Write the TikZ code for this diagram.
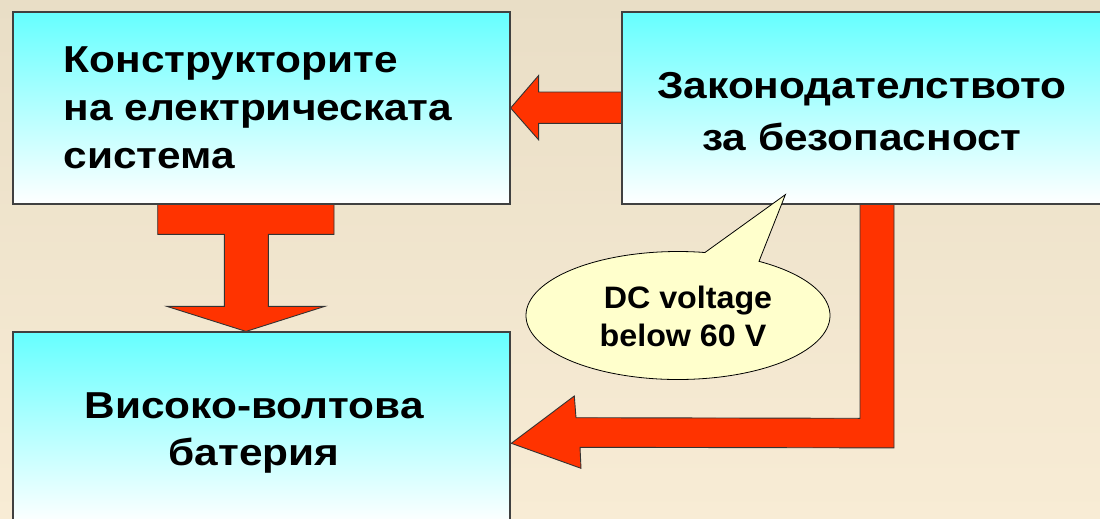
\documentclass[tikz,border=0pt]{standalone}
\usepackage{fontspec}
\setmainfont{Liberation Sans}
\newfontfamily\widefont{Liberation Sans}[FakeStretch=1.13]
\newfontfamily\semiwidefont{Liberation Sans}[FakeStretch=1.04]
\usetikzlibrary{calc}
\pgfdeclarelayer{bglayer}
\pgfdeclarelayer{arrowlayer}
\pgfsetlayers{bglayer,arrowlayer,main}
\definecolor{bgtop}{HTML}{E9DEC6}
\definecolor{bgbot}{HTML}{F8ECD5}
\definecolor{boxtop}{HTML}{66FFFF}
\definecolor{boxline}{HTML}{404040}
\definecolor{arrowred}{HTML}{FF3300}
\definecolor{calloutfill}{HTML}{FFFFCC}
\tikzset{
  box/.style={draw=boxline, line width=1.2pt, top color=boxtop, bottom color=white,
    inner sep=0pt, minimum width=497pt, minimum height=192pt},
  blockarrow/.style={fill=arrowred, draw=black!80, line width=0.9pt, line join=miter},
  calloutshape/.style={fill=calloutfill, draw=black, line width=0.8pt},
  bigtext/.style={font=\widefont\fontsize{37.5}{45}\selectfont\bfseries, inner sep=0pt},
  smalltext/.style={font=\semiwidefont\fontsize{31}{37}\selectfont\bfseries, inner sep=0pt, anchor=base},
}
\begin{document}
\begin{tikzpicture}[x=1pt,y=-1pt]
\useasboundingbox (0,0) rectangle (1100,519);
\clip (0,0) rectangle (1100,519);
\begin{pgfonlayer}{bglayer}
  \fill[top color=bgtop, bottom color=bgbot] (0,0) rectangle (1100,519);
\end{pgfonlayer}

% boxes
\node[box] (b1) at (261.5,108) {};
\node[box, minimum width=480pt] (b2) at (862,108) {};
\node[box] (b3) at (261.5,428) {};

% box texts
\node[bigtext, anchor=base west] (t1a) at (63.5,72.3) {Конструкторите};
\node[bigtext, anchor=base west] (t1b) at (63.5,120.7) {на електрическата};
\node[bigtext, anchor=base west] (t1c) at (63.5,168.3) {система};
\node[bigtext, anchor=base] (t2a) at (862,98.3) {Законодателството};
\node[bigtext, anchor=base] (t2b) at (862,150) {за безопасност};
\node[bigtext, anchor=base] (t3a) at (254,418.3) {Високо-волтова};
\node[bigtext, anchor=base] (t3b) at (254,465) {батерия};

% arrows
\begin{pgfonlayer}{arrowlayer}
  % left arrow: legislation -> designers
  \draw[blockarrow] (b1.east) -- ++(28,-32.5) -- ++(0,16.5)
    -- ($(b2.west)+(20,-16)$) -- ($(b2.west)+(20,15.3)$)
    -- ($(b1.east)+(28,15.3)$) -- ++(0,16.5) -- cycle;
  % down arrow: designers -> battery
  \coordinate (da) at ($(b1.south)+(-15.5,0)$);
  \draw[blockarrow] ($(da)+(-88.3,-4)$) -- ($(da)+(88,-4)$) -- ($(da)+(88,29.7)$)
    -- ($(da)+(22.3,29.7)$) -- ($(da)+(22.3,101.7)$) -- ($(da)+(79,101.7)$)
    -- (da |- b3.north) -- ($(da)+(-79.3,101.7)$) -- ($(da)+(-21.7,101.7)$)
    -- ($(da)+(-21.7,29.7)$) -- ($(da)+(-88.3,29.7)$) -- cycle;
  % bent arrow: legislation -> battery
  \coordinate (bs) at ($(b2.south)+(15,0)$);
  \coordinate (btip) at ($(b3.east)+(0.7,15.3)$);
  \draw[blockarrow] ($(bs)+(17,-150)$) -- ($(bs)+(17,243.3)$) -- (580,447.3)
    -- (581,468.3) -- (btip) -- (574.3,396) -- (576,417.7)
    -- ($(bs)+(-17,213.7)$) -- ($(bs)+(-17,-150)$) -- cycle;
\end{pgfonlayer}

% callout
\coordinate (cc) at (678,315.5);
\coordinate (ctip) at ($(b2.south west)+(164,-10)$);
\draw[calloutshape] ($(cc)+(-79.8:152 and 64)$) -- (ctip) -- ($(cc)+(-57.8:152 and 64)$)
  arc[start angle=-57.8, end angle=280.2, x radius=152, y radius=64] -- cycle;
\node[smalltext] (c1) at (688,308.3) {DC voltage};
\node[smalltext] (c2) at (683,346) {below 60 V};
\end{tikzpicture}
\end{document}
